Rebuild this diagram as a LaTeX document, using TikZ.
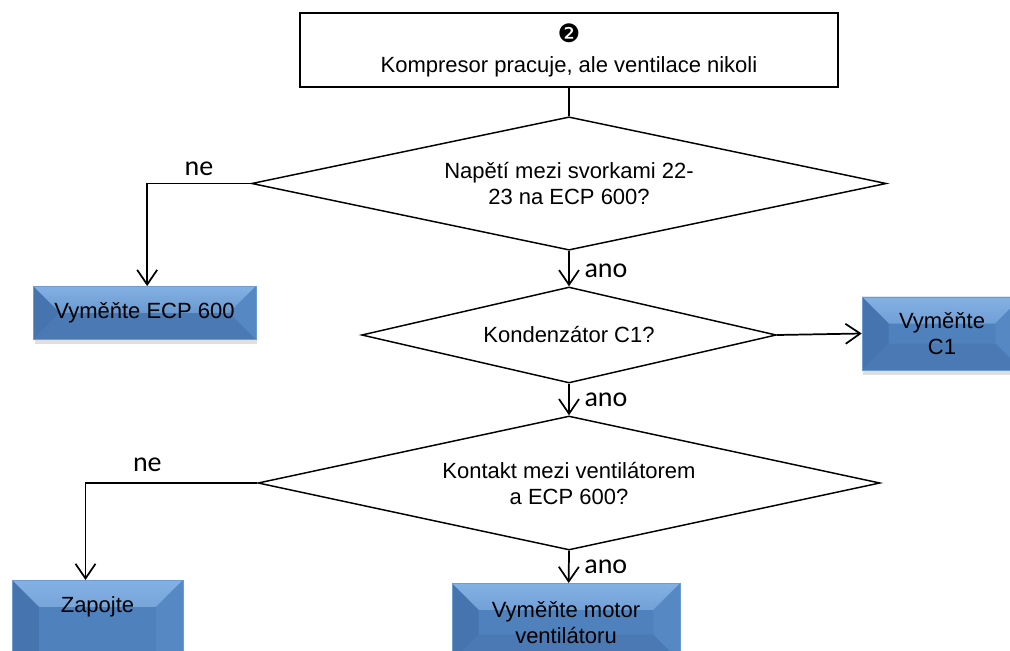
\documentclass[tikz,border=0pt]{standalone}
\usepackage{fontspec}
\setmainfont{Liberation Sans}
\newfontfamily\lblfont{Carlito}
\newfontfamily\symfont{DejaVu Sans}
\usepackage{xcolor}
\usepackage{tikz}
\usetikzlibrary{arrows.meta,positioning,calc,shapes.geometric,shadows}
\definecolor{fixblue}{RGB}{79,129,189}
\definecolor{fixlight}{RGB}{132,177,228}
\definecolor{fixdark}{RGB}{70,116,174}
\definecolor{fixside}{RGB}{86,136,196}
\definecolor{fixedge}{RGB}{110,155,210}
\newcommand{\bev}{20pt}
\tikzset{
  txt/.style={font=\fontsize{16.5}{19.5}\selectfont,align=center},
  startbox/.style={draw,line width=0.9pt,fill=white,txt,inner sep=2pt},
  ask/.style={diamond,draw,line width=1.1pt,fill=white,txt,inner sep=0pt},
  fixbox/.style={draw=fixedge,line width=0.4pt,fill=fixblue,txt,inner sep=2pt,
    drop shadow={opacity=0.25,shadow xshift=1pt,shadow yshift=-3.5pt},
    path picture={
      % zkosene hrany: svetly horni pas, tmavsi boky a spodek
      \fill[top color=fixlight,bottom color=fixblue]
        (path picture bounding box.north west) -- (path picture bounding box.north east)
        -- ([shift={(-\bev,-\bev)}]path picture bounding box.north east)
        -- ([shift={(\bev,-\bev)}]path picture bounding box.north west) -- cycle;
      \fill[fixdark]
        (path picture bounding box.north west) -- ([shift={(\bev,-\bev)}]path picture bounding box.north west)
        -- ([shift={(\bev,\bev)}]path picture bounding box.south west)
        -- (path picture bounding box.south west) -- cycle;
      \fill[fixside]
        (path picture bounding box.north east) -- ([shift={(-\bev,-\bev)}]path picture bounding box.north east)
        -- ([shift={(-\bev,\bev)}]path picture bounding box.south east)
        -- (path picture bounding box.south east) -- cycle;
      \fill[fixdark!60!fixblue]
        (path picture bounding box.south west) -- ([shift={(\bev,\bev)}]path picture bounding box.south west)
        -- ([shift={(-\bev,\bev)}]path picture bounding box.south east)
        -- (path picture bounding box.south east) -- cycle;
    }},
  flow/.style={-{Straight Barb[length=11pt,width=15pt]},line width=1.3pt},
  link/.style={line width=1.3pt},
  lbl/.style={font=\lblfont\fontsize{21}{24}\selectfont,inner sep=1pt},
}

\begin{document}
\begin{tikzpicture}[x=0.75pt,y=-0.75pt]
  \path[use as bounding box,clip] (0,0) rectangle (1010,650);

  \node[startbox,minimum width=403.5pt,minimum height=55.5pt] (start) at (569,50)
    {{\symfont\fontsize{19}{19}\selectfont ❷}\\[3pt]Kompresor pracuje, ale ventilace nikoli};

  % otazky
  \node[ask,aspect=4.76,minimum width=476pt,minimum height=100pt] (volt) at (569,183.5)
    {Napětí mezi svorkami 22-\\23 na ECP 600?};
  \node[ask,aspect=4.32,minimum width=311pt,minimum height=72pt] (cond) at (569,335)
    {Kondenzátor C1?};
  \node[ask,aspect=4.64,minimum width=466.5pt,minimum height=100.5pt] (cont) at (569,483)
    {Kontakt mezi ventilátorem\\a ECP 600?};

  % napravy
  \node[fixbox,minimum width=167pt,minimum height=40pt] (ecp) at (144.5,313)
    {Vyměňte ECP 600};
  \node[fixbox,minimum width=120pt,minimum height=55pt] (cap) at (942,333.5)
    {Vyměňte\\C1};
  \node[fixbox,minimum width=128pt,minimum height=82pt,anchor=north] (plug) at (97.5,580) {};
  \node[txt] (plugtxt) at (97.5,607) {Zapojte};
  \node[fixbox,minimum width=171pt,minimum height=58.5pt,anchor=north] (motor) at (566,583)
    {Vyměňte motor\\ventilátoru};

  \draw[link] (start.south) -- (volt.north);
  \draw[flow] (volt.west) -| node[lbl,above=4.5pt,pos=0.25]{ne} ([xshift=2pt]ecp.north);
  \draw[flow] (volt.south) -- node[lbl,right=10pt,yshift=-2pt]{ano} (cond.north);
  \draw[flow] (cond.east) -- (cap.west);
  \draw[flow] (cond.south) -- node[lbl,right=10pt]{ano} (cont.north);
  \draw[flow] (cont.west) -| node[lbl,above=6.5pt,pos=0.32]{ne} ([xshift=-9pt]plug.north);
  \draw[flow] (cont.south) -- node[lbl,right=10pt]{ano} ([xshift=2pt]motor.north);
\end{tikzpicture}
\end{document}
